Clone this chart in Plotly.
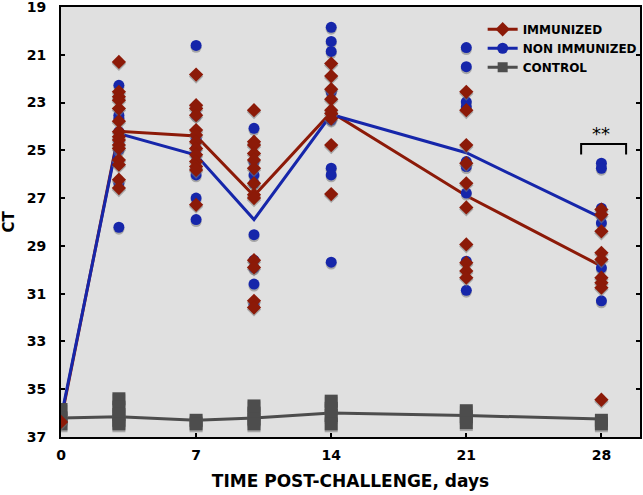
import plotly.graph_objects as go

# ---------------- data ----------------
days = [0, 3, 7, 10, 14, 21, 28]

imm_mean = [36.3, 24.2, 24.4, 26.9, 23.4, 26.9, 29.85]
non_mean = [36.2, 24.3, 25.2, 27.9, 23.5, 25.1, 27.83]
ctl_mean = [36.2, 36.15, 36.3, 36.2, 36.0, 36.1, 36.25]

imm_x = ([0] + [3] * 15 + [7] * 13 + [10] * 13 + [14] * 9 + [21] * 10 + [28] * 9)
imm_y = ([36.37] +
         [21.3, 22.55, 22.76, 22.9, 23.25, 23.78, 24.22, 24.43, 24.57, 24.78, 24.92, 25.4, 25.6, 26.23, 26.58] +
         [21.83, 23.11, 23.25, 23.53, 24.15, 24.36, 24.64, 24.92, 25.19, 25.47, 25.68, 25.82, 27.28] +
         [23.32, 24.64, 24.78, 25.13, 25.4, 25.75, 26.38, 26.86, 27.0, 29.6, 31.3, 31.58, 29.9] +
         [21.37, 21.89, 22.44, 22.86, 23.32, 23.46, 23.67, 24.78, 26.83] +
         [22.55, 23.32, 24.78, 25.54, 26.38, 27.39, 28.94, 29.71, 30.05, 30.33] +
         [27.48, 27.69, 28.39, 29.29, 29.57, 30.33, 30.54, 30.75, 35.44])

non_x = ([3] * 9 + [7] * 9 + [10] * 9 + [14] * 9 + [21] * 9 + [28] * 7)
non_y = ([22.28, 22.76, 23.53, 23.67, 24.22, 24.64, 24.98, 26.38, 28.22] +
         [20.61, 23.53, 24.5, 24.92, 25.19, 25.75, 26.03, 27.0, 27.9] +
         [24.08, 25.47, 26.03, 26.38, 28.53, 29.6, 29.92, 30.6, 31.44] +
         [19.85, 20.44, 20.86, 22.48, 22.55, 23.73, 25.75, 26.03, 29.68] +
         [20.7, 21.5, 22.97, 23.18, 25.47, 25.68, 26.79, 29.64, 30.86] +
         [25.54, 25.75, 27.42, 27.69, 28.04, 29.92, 31.3])

ctl_x = ([0] * 3 + [3] * 5 + [7] * 2 + [10] * 4 + [14] * 4 + [21] * 3 + [28] * 2)
ctl_y = ([35.85, 36.2, 36.45] +
         [35.4, 35.75, 36.05, 36.3, 36.45] +
         [36.3, 36.45] +
         [35.7, 36.0, 36.25, 36.45] +
         [35.5, 35.8, 36.1, 36.45] +
         [35.9, 36.15, 36.4] +
         [36.3, 36.45])

x_ticks = [0, 7, 14, 21, 28]
y_ticks = [19, 21, 23, 25, 27, 29, 31, 33, 35, 37]

sig_label = "**"
sig_x0, sig_x1, sig_top, sig_leg = 26.95, 29.28, 24.73, 25.17
sig_text_x, sig_text_y = 28.0, 24.3

RED = "#8c1a08"
BLUE = "#1626aa"
GRAY = "#4d4d4d"
SHADOW = "rgba(120,120,120,0.55)"
FONT = "DejaVu Sans, Verdana, sans-serif"

# tiny downward offset (data units) for the soft drop shadow under each marker
shadow_dy = 0.08

fig = go.Figure()

# mean lines
fig.add_trace(go.Scatter(x=days, y=imm_mean, mode="lines",
                         line=dict(color=RED, width=3), showlegend=False))
fig.add_trace(go.Scatter(x=days, y=non_mean, mode="lines",
                         line=dict(color=BLUE, width=3), showlegend=False))
fig.add_trace(go.Scatter(x=days, y=ctl_mean, mode="lines",
                         line=dict(color=GRAY, width=3), showlegend=False))
# individual points (with faint shadows)
fig.add_trace(go.Scatter(x=ctl_x, y=[v + shadow_dy for v in ctl_y], mode="markers",
                         marker=dict(symbol="square", size=13, color=SHADOW), showlegend=False))
fig.add_trace(go.Scatter(x=ctl_x, y=ctl_y, mode="markers",
                         marker=dict(symbol="square", size=13, color=GRAY), showlegend=False))
fig.add_trace(go.Scatter(x=non_x, y=[v + shadow_dy for v in non_y], mode="markers",
                         marker=dict(symbol="circle", size=11, color=SHADOW), showlegend=False))
fig.add_trace(go.Scatter(x=non_x, y=non_y, mode="markers",
                         marker=dict(symbol="circle", size=11, color=BLUE), showlegend=False))
fig.add_trace(go.Scatter(x=imm_x, y=[v + shadow_dy for v in imm_y], mode="markers",
                         marker=dict(symbol="diamond", size=11, color=SHADOW), showlegend=False))
fig.add_trace(go.Scatter(x=imm_x, y=imm_y, mode="markers",
                         marker=dict(symbol="diamond", size=11, color=RED), showlegend=False))

# legend entries
fig.add_trace(go.Scatter(x=[None], y=[None], mode="lines+markers", name="IMMUNIZED",
                         line=dict(color=RED, width=3),
                         marker=dict(symbol="diamond", size=11, color=RED)))
fig.add_trace(go.Scatter(x=[None], y=[None], mode="lines+markers", name="NON IMMUNIZED",
                         line=dict(color=BLUE, width=3),
                         marker=dict(symbol="circle", size=11, color=BLUE)))
fig.add_trace(go.Scatter(x=[None], y=[None], mode="lines+markers", name="CONTROL",
                         line=dict(color=GRAY, width=3),
                         marker=dict(symbol="square", size=10, color=GRAY)))

# significance bracket
fig.add_shape(type="path",
              path=f"M {sig_x0} {sig_leg} L {sig_x0} {sig_top} L {sig_x1} {sig_top} L {sig_x1} {sig_leg}",
              xref="x", yref="y", line=dict(color="black", width=2))
fig.add_annotation(x=sig_text_x, y=sig_text_y, text=sig_label, showarrow=False,
                   font=dict(family=FONT, size=18, color="black"))

axis_common = dict(showline=True, linecolor="black", linewidth=2,
                   ticks="inside", ticklen=4, tickwidth=1.5, tickcolor="black",
                   showgrid=False, zeroline=False, automargin=False,
                   ticklabeloverflow="allow",
                   tickfont=dict(family=FONT, size=14, color="black", weight="bold"))

fig.update_xaxes(range=[0, 30], tickvals=x_ticks, mirror=True,
                 ticklabelstandoff=4,
                 title=dict(text="<b>TIME POST-CHALLENGE, days</b>",
                            font=dict(family=FONT, size=17, color="black"), standoff=13),
                 **axis_common)
fig.update_yaxes(range=[37, 19], tickvals=y_ticks, mirror="ticks",
                 ticklabelstandoff=10,
                 title=dict(text="<b>CT</b>",
                            font=dict(family=FONT, size=15, color="black"), standoff=14),
                 **axis_common)

fig.update_layout(
    width=643, height=495,
    margin=dict(l=61, r=2, t=7, b=58),
    plot_bgcolor="#e0e0e0", paper_bgcolor="white",
    legend=dict(x=0.727, y=0.982, xanchor="left", yanchor="top",
                bgcolor="rgba(0,0,0,0)", borderwidth=0,
                font=dict(family=FONT, size=12, color="black", weight="bold"),
                itemwidth=30, tracegroupgap=0),
)

fig.write_html("out.html", config={"displayModeBar": False},
               post_script="document.body.style.margin='0';document.body.style.padding='0';")
